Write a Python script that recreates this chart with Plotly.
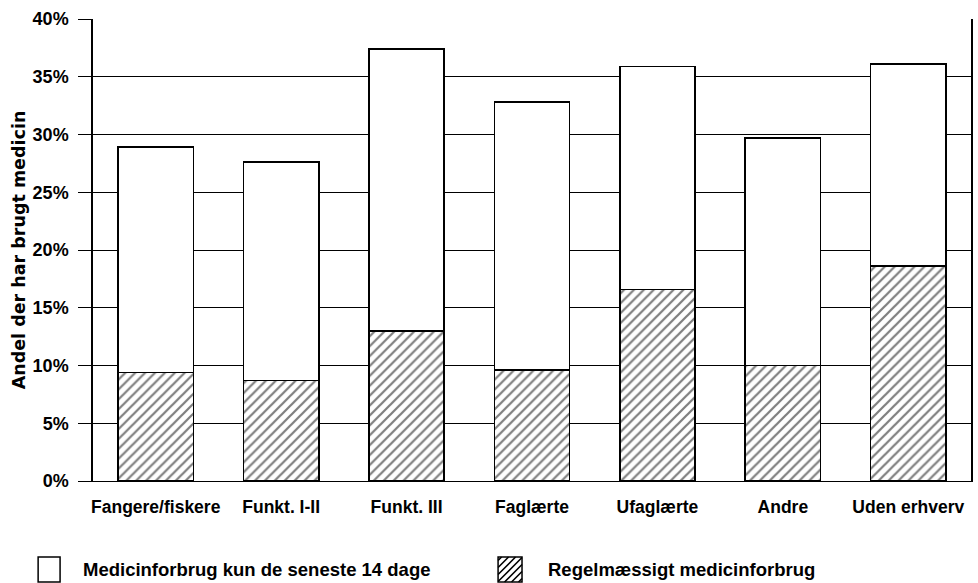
import plotly.graph_objects as go

# Share of respondents who used medicine, by occupational group (%)
categories = ["Fangere/fiskere", "Funkt. I-II", "Funkt. III", "Faglærte",
              "Ufaglærte", "Andre", "Uden erhverv"]
total_use = [28.9, 27.6, 37.4, 32.8, 35.9, 29.7, 36.1]      # any use
regular_use = [9.4, 8.7, 13.0, 9.6, 16.6, 10.0, 18.6]       # regular use
recent_only = [round(t - r, 1) for t, r in zip(total_use, regular_use)]

y_ticks = [0, 5, 10, 15, 20, 25, 30, 35, 40]
y_tick_text = [f"{v}%" for v in y_ticks]

legend_labels = ["Medicinforbrug kun de seneste 14 dage", "Regelmæssigt medicinforbrug"]

SANS = "Liberation Sans, Arial"

W, H = 978, 583
M_L, M_R, M_T, M_B = 93, 5, 19, 102
PLOT_W, PLOT_H = W - M_L - M_R, H - M_T - M_B


def to_paper(px, py):
    """Convert page pixels (origin top-left) to paper coordinates."""
    return (px - M_L) / PLOT_W, (H - M_B - py) / PLOT_H


def hatch_path(x0, y0, x1, y1, step):
    """SVG path of '/' hatch lines clipped to a pixel box."""
    segs = []
    w, h = x1 - x0, y1 - y0
    c = -h + step / 2
    while c < w:
        t0 = max(0.0, -c)
        t1 = min(h, w - c)
        if t1 > t0:
            ax, ay = to_paper(x0 + c + t0, y1 - t0)
            bx, by = to_paper(x0 + c + t1, y1 - t1)
            segs.append(f"M{ax:.5f},{ay:.5f} L{bx:.5f},{by:.5f}")
        c += step
    return " ".join(segs)


fig = go.Figure()
fig.add_trace(go.Bar(
    x=categories, y=regular_use, name=legend_labels[1],
    marker=dict(color="white", line=dict(color="black", width=1.5),
                pattern=dict(shape="/", fgcolor="black", bgcolor="white",
                             size=7, solidity=0.32)),
))
fig.add_trace(go.Bar(
    x=categories, y=recent_only, name=legend_labels[0],
    marker=dict(color="white", line=dict(color="black", width=1.5)),
))

fig.update_layout(
    barmode="stack",
    bargap=0.4,
    width=W, height=H,
    margin=dict(l=M_L, r=M_R, t=M_T, b=M_B),
    paper_bgcolor="white", plot_bgcolor="white",
    showlegend=False,
    font=dict(family=SANS, color="black"),
)
fig.update_xaxes(
    showgrid=False, showline=True, linecolor="black", linewidth=1,
    tickfont=dict(family=SANS, size=17.5, weight="bold"),
    ticks="", ticklabelstandoff=10,
)
fig.update_yaxes(
    range=[0, 40], tickvals=y_ticks, ticktext=y_tick_text,
    showgrid=True, gridcolor="black", gridwidth=1,
    showline=True, linecolor="black", linewidth=1.5, mirror=True,
    ticks="outside", ticklen=13, tickcolor="black", tickwidth=1,
    ticklabelstandoff=6,
    tickfont=dict(family=SANS, size=18, weight="bold"),
    title=dict(text="Andel der har brugt medicin",
               font=dict(family="DejaVu Sans, Verdana", size=17.5, weight="bold"),
               standoff=2),
    zeroline=False,
)

# Legend drawn below the plot: outlined box and hatched box with labels
bx0, by0 = to_paper(38, 582)
bx1, by1 = to_paper(60, 557)
fig.add_shape(type="rect", xref="paper", yref="paper",
              x0=bx0, x1=bx1, y0=by0, y1=by1,
              line=dict(color="black", width=1.5), fillcolor="white")

hx0, hy0 = to_paper(499, 582)
hx1, hy1 = to_paper(523, 557)
fig.add_shape(type="rect", xref="paper", yref="paper",
              x0=hx0, x1=hx1, y0=hy0, y1=hy1,
              line=dict(color="black", width=1.5), fillcolor="white")
fig.add_shape(type="path", xref="paper", yref="paper",
              path=hatch_path(499, 557, 523, 582, 7),
              line=dict(color="black", width=1.6))

lx, ly = to_paper(81, 569)
fig.add_annotation(xref="paper", yref="paper", x=lx, y=ly,
                   text=legend_labels[0], showarrow=False, xanchor="left",
                   yanchor="middle",
                   font=dict(family=SANS, size=18.5, weight="bold"))
lx2, _ = to_paper(547, 569)
fig.add_annotation(xref="paper", yref="paper", x=lx2, y=ly,
                   text=legend_labels[1], showarrow=False, xanchor="left",
                   yanchor="middle",
                   font=dict(family=SANS, size=18.5, weight="bold"))

fig.write_html("out.html")
